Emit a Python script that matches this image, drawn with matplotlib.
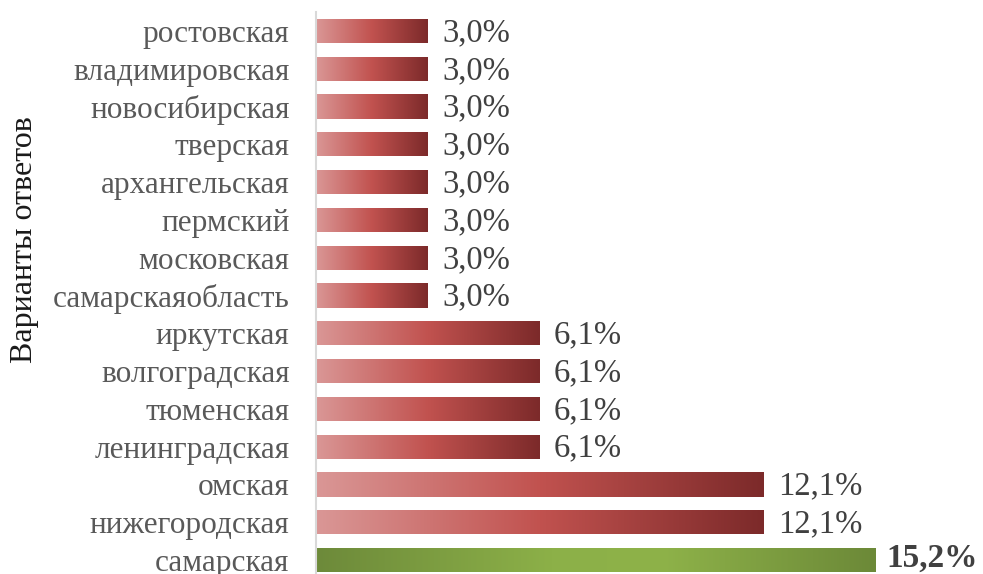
import numpy as np
import matplotlib.pyplot as plt
from matplotlib.colors import LinearSegmentedColormap

plt.rcParams['font.family'] = ['Liberation Serif', 'DejaVu Serif']

# данные (сверху вниз, как на диаграмме)
regions = ['ростовская', 'владимировская', 'новосибирская', 'тверская',
           'архангельская', 'пермский', 'московская', 'самарскаяобласть',
           'иркутская', 'волгоградская', 'тюменская', 'ленинградская',
           'омская', 'нижегородская', 'самарская']
shares = [3.03, 3.03, 3.03, 3.03, 3.03, 3.03, 3.03, 3.03,
          6.06, 6.06, 6.06, 6.06, 12.12, 12.12, 15.15]
value_labels = ['3,0%'] * 8 + ['6,1%'] * 4 + ['12,1%', '12,1%', '15,2%']
highlight = 'самарская'

red_cmap = LinearSegmentedColormap.from_list(
    'red', [(0, '#da9796'), (0.5, '#c1524f'), (1, '#7c2a2a')])
green_cmap = LinearSegmentedColormap.from_list(
    'green', [(0, '#6d8a3a'), (0.42, '#8cb048'), (0.62, '#8eb249'), (1, '#6c8938')])

fig = plt.figure(figsize=(9.83, 5.74), dpi=100)
ax = fig.add_axes([316 / 983, 0, 1 - 316 / 983 - 0.002, 1 - 12 / 574])

n = len(regions)
ypos = np.arange(n)[::-1]
bar_h = 0.64
grad = np.linspace(0, 1, 256).reshape(1, -1)

bars = ax.barh(ypos, shares, height=bar_h, color='none', edgecolor='none')
for bar, name, val, lab in zip(bars, regions, shares, value_labels):
    y0 = bar.get_y()
    cmap = green_cmap if name == highlight else red_cmap
    im = ax.imshow(grad, cmap=cmap, aspect='auto', interpolation='bilinear',
                   extent=(0, val, y0, y0 + bar_h), zorder=2)
    im.set_clip_path(bar)
    if name == highlight:
        ax.text(val + 0.3, y0 + bar_h / 2 + 0.04, lab, va='center', ha='left',
                fontsize=24, fontweight='bold', color='#404040')
    else:
        ax.text(val + 0.38, y0 + bar_h / 2 - 0.05, lab, va='center', ha='left',
                fontsize=23.5, color='#404040')

ax.set_xlim(0, 18)
ax.set_ylim(-0.37, n - 0.5)
ax.set_yticks(ypos)
ax.set_yticklabels(regions, fontsize=22.5, color='#595959')
ax.tick_params(axis='y', length=0, pad=19)
ax.set_xticks([])
for s in ['top', 'right', 'bottom']:
    ax.spines[s].set_visible(False)
ax.spines['left'].set_color('#d9d9d9')
ax.spines['left'].set_linewidth(1.5)

fig.text(25 / 983, 1 - 240 / 574, 'Варианты ответов', rotation=90,
         va='center', ha='center', fontsize=23, color='#1a1a1a')

fig.savefig('out.png', dpi=100)
